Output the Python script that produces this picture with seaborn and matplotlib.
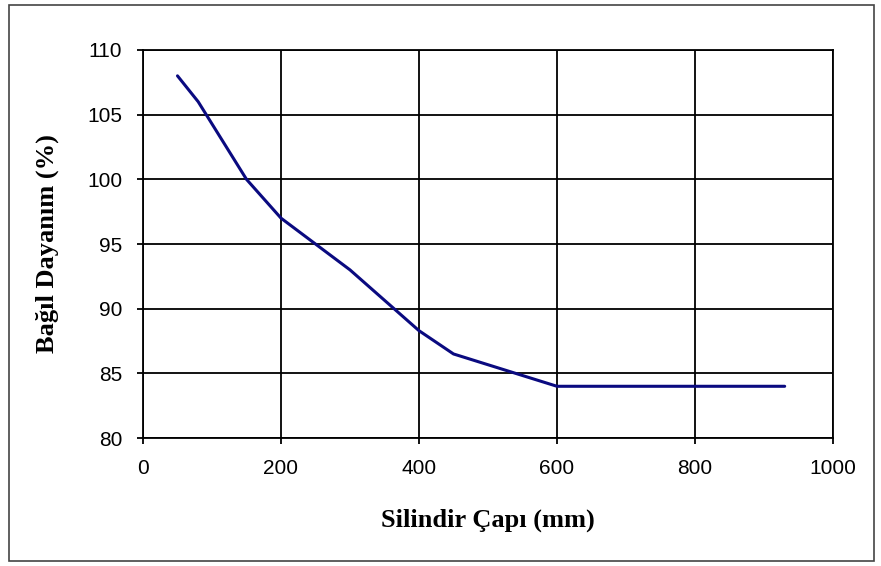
"""Relative strength vs. cylinder diameter, redrawn with seaborn."""
import matplotlib
matplotlib.use('Agg')
import matplotlib.pyplot as plt
import pandas as pd
import seaborn as sns
from matplotlib.patches import Rectangle

# values
diameter = [50, 80, 150, 200, 300, 400, 450, 600, 930]
strength = [108, 106, 100, 97, 93, 88.3, 86.5, 84, 84]
x_ticks = [0, 200, 400, 600, 800, 1000]
y_ticks = [80, 85, 90, 95, 100, 105, 110]

df = pd.DataFrame({'cap': diameter, 'dayanim': strength})

sns.set_style('white')
plt.rcParams['font.family'] = ['Liberation Sans', 'DejaVu Sans']
plt.rcParams['text.color'] = 'black'
plt.rcParams['axes.labelcolor'] = 'black'

fig = plt.figure(figsize=(8.81, 5.66), dpi=100)
ax = fig.add_axes([0.1623, 0.2261, 0.7832, 0.6856])

sns.lineplot(data=df, x='cap', y='dayanim', color='#0a0a80', linewidth=2.2, ax=ax)

ax.set_xlim(0, 1000)
ax.set_ylim(80, 110)
ax.set_xticks(x_ticks)
ax.set_yticks(y_ticks)
ax.grid(True, color='black', linewidth=1.3)
for s in ax.spines.values():
    s.set_color('black')
    s.set_linewidth(1.3)
ax.tick_params(direction='out', length=4, width=1.3, colors='black',
               labelsize=15, pad=11, left=True, bottom=True)

serif = ['Liberation Serif', 'DejaVu Serif']
ax.set_xlabel('Silindir Çapı (mm)', family=serif, fontweight='bold', fontsize=19, labelpad=22)
ax.set_ylabel('Bağıl Dayanım (%)', family=serif, fontweight='bold', fontsize=19, labelpad=20)

# thin frame around the whole chart, like the spreadsheet export
fig.patches.append(Rectangle((0.01, 0.009), 0.982, 0.982, transform=fig.transFigure,
                             fill=False, edgecolor='#444444', linewidth=1.2))

fig.savefig('out.png', dpi=100)
